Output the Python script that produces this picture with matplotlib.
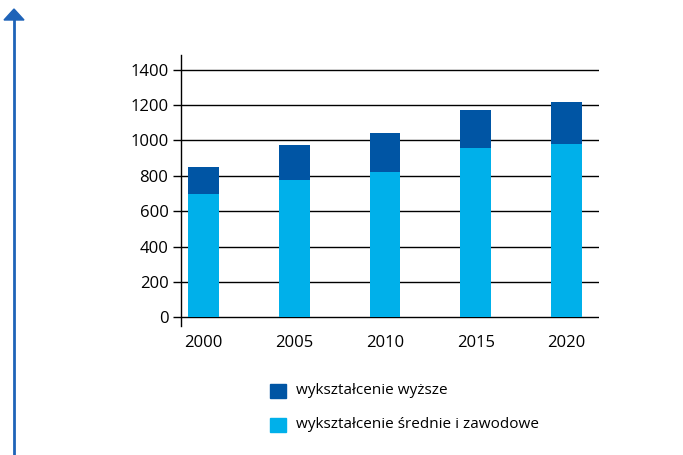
import matplotlib
matplotlib.use("Agg")
import matplotlib.pyplot as plt
from matplotlib.patches import Rectangle, FancyArrow
from matplotlib.lines import Line2D

years = ["2000", "2005", "2010", "2015", "2020"]
secondary = [700, 775, 820, 955, 980]          # wykształcenie średnie i zawodowe
higher = [150, 200, 220, 220, 240]             # wykształcenie wyższe
series_labels = ["wykształcenie wyższe", "wykształcenie średnie i zawodowe"]
yticks = [0, 200, 400, 600, 800, 1000, 1200, 1400]

DARK = "#0055A4"
LIGHT = "#00B0EA"
ARROW = "#1E63B8"

plt.rcParams['font.family'] = ['Open Sans', 'DejaVu Sans']

fig = plt.figure(figsize=(6.83, 4.55), dpi=100)
ax = fig.add_axes([181.3/683, 1-325.7/455, (598.7-181.3)/683, (325.7-54.7)/455])

x = list(range(len(years)))
ax.bar(x, secondary, width=0.34, color=LIGHT, zorder=3)
ax.bar(x, higher, bottom=secondary, width=0.34, color=DARK, zorder=3)

ax.set_xlim(-0.245, 4.355)
ax.set_ylim(-47.5, 1485)
for yv in yticks:
    ax.axhline(yv, color="black", lw=1.0, zorder=1)

ax.set_yticks(yticks)
ax.set_yticklabels([str(v) for v in yticks], fontsize=12)
ax.set_xticks(x)
ax.set_xticklabels(years, fontsize=12)
ax.tick_params(axis="y", length=5.8, width=1.0, pad=3.5, color="black")
ax.tick_params(axis="x", length=0, pad=7)
for s in ["top", "right", "bottom"]:
    ax.spines[s].set_visible(False)
ax.spines["left"].set_linewidth(1.0)

# Legend (manual)
leg_colors = [DARK, LIGHT]
leg_y = [384, 417.7]
for lab, col, yt in zip(series_labels, leg_colors, leg_y):
    fig.add_artist(Rectangle((270/683, 1-(yt+14)/455), 15.5/683, 14/455,
                             transform=fig.transFigure, color=col))
    fig.text(296/683, 1-(yt+7)/455, lab, fontsize=11, va="center", ha="left")

# Left arrow
fig.add_artist(Line2D([13.7/683, 13.7/683], [0, 1-19/455], transform=fig.transFigure,
                      color=ARROW, lw=2.0, solid_capstyle="butt"))
fig.add_artist(plt.Polygon([[4/683, 1-20/455], [24/683, 1-20/455], [14/683, 1-9/455]],
                           closed=True, transform=fig.transFigure, color=ARROW))

fig.savefig("out.png", dpi=100)
